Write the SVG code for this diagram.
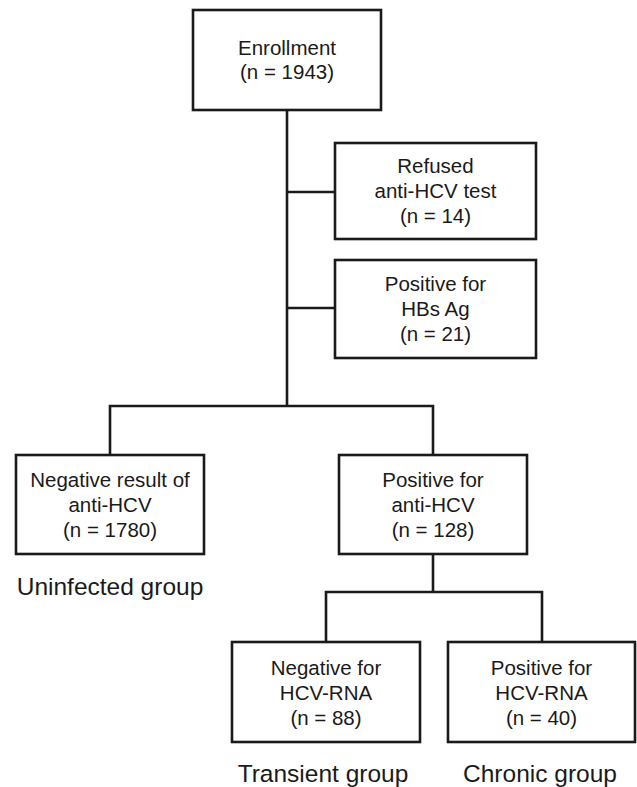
<svg xmlns="http://www.w3.org/2000/svg" width="637" height="787" viewBox="0 0 637 787">
<style>
.box{fill:#fff;stroke:#1a1a1a;stroke-width:2.6}
.ln{fill:none;stroke:#1a1a1a;stroke-width:2.6}
.t{font-family:"Liberation Sans",Arial,sans-serif;font-size:20.5px;fill:#1a1a1a;text-anchor:middle}
.g{font-family:"Liberation Sans",Arial,sans-serif;font-size:24.5px;fill:#1a1a1a;text-anchor:middle}
</style>
<rect width="637" height="787" fill="#fff"/>
<g id="connectors">
<path class="ln" d="M287 110 V406"/>
<path class="ln" d="M287 192 H335"/>
<path class="ln" d="M287 308 H335"/>
<path class="ln" d="M110 455 V406 H433 V455"/>
<path class="ln" d="M433 554 V592"/>
<path class="ln" d="M326 642 V592 H542 V642"/>
</g>
<g id="enrollment">
<rect class="box" x="193" y="10" width="188" height="100"/>
<text class="t" x="287" y="55">Enrollment</text>
<text class="t" x="287" y="79">(n = 1943)</text>
</g>
<g id="refused">
<rect class="box" x="335" y="143" width="201" height="96"/>
<text class="t" x="435.5" y="173">Refused</text>
<text class="t" x="435.5" y="198">anti-HCV test</text>
<text class="t" x="435.5" y="223">(n = 14)</text>
</g>
<g id="hbsag">
<rect class="box" x="335" y="260" width="201" height="98"/>
<text class="t" x="435.5" y="291">Positive for</text>
<text class="t" x="435.5" y="316">HBs Ag</text>
<text class="t" x="435.5" y="341">(n = 21)</text>
</g>
<g id="negative-anti-hcv">
<rect class="box" x="16" y="455" width="188" height="99"/>
<text class="t" x="110" y="487">Negative result of</text>
<text class="t" x="110" y="512">anti-HCV</text>
<text class="t" x="110" y="537">(n = 1780)</text>
</g>
<g id="positive-anti-hcv">
<rect class="box" x="339" y="455" width="188" height="99"/>
<text class="t" x="433" y="487">Positive for</text>
<text class="t" x="433" y="512">anti-HCV</text>
<text class="t" x="433" y="537">(n = 128)</text>
</g>
<text class="g" x="110" y="595">Uninfected group</text>
<g id="negative-rna">
<rect class="box" x="232" y="642" width="188" height="100"/>
<text class="t" x="326" y="675">Negative for</text>
<text class="t" x="326" y="700">HCV-RNA</text>
<text class="t" x="326" y="725">(n = 88)</text>
</g>
<g id="positive-rna">
<rect class="box" x="448" y="642" width="187" height="100"/>
<text class="t" x="541.5" y="675">Positive for</text>
<text class="t" x="541.5" y="700">HCV-RNA</text>
<text class="t" x="541.5" y="725">(n = 40)</text>
</g>
<text class="g" x="323" y="782">Transient group</text>
<text class="g" x="540" y="782">Chronic group</text>
</svg>
